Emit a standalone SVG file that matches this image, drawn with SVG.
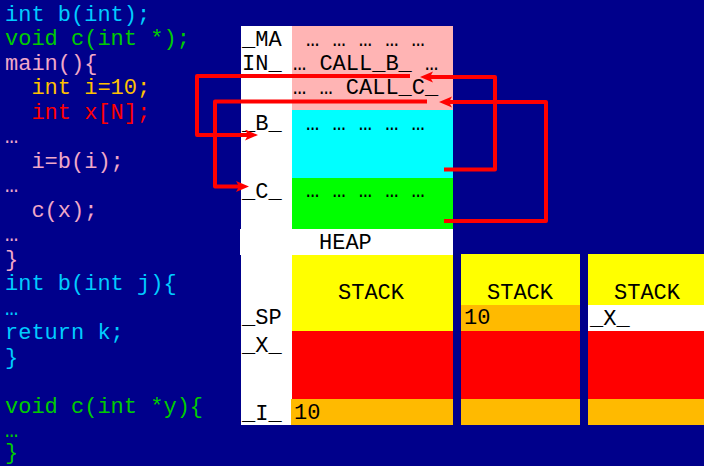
<svg xmlns="http://www.w3.org/2000/svg" width="704" height="466" viewBox="0 0 704 466">
<defs>
<style>
text{font-family:"Liberation Mono","Courier New",monospace;font-size:22px;}
.k{fill:#000000;}
.cy{fill:#00CCFF;}
.gr{fill:#00CC00;}
.pk{fill:#F0A8C8;}
.or{fill:#FFC000;}
.rd{fill:#FF0000;}
.conn{fill:none;stroke:#FF0000;stroke-width:4;stroke-linejoin:round;marker-end:url(#ah);}
</style>
<marker id="ah" markerUnits="userSpaceOnUse" markerWidth="14" markerHeight="12" refX="5" refY="5.5" orient="auto">
<path d="M0,0 L13,5.5 L0,11 L3,5.5 Z" fill="#FF0000"/>
</marker>
</defs>
<rect width="704" height="466" fill="#00008B"/>

<g id="code">
<text class="cy" x="5" y="20.5">int b(int);</text>
<text class="gr" x="5" y="45">void c(int *);</text>
<text class="pk" x="5" y="69.5">main(){</text>
<text class="or" x="31.4" y="94">int i=10;</text>
<text class="rd" x="31.4" y="118.5">int x[N];</text>
<text class="pk" x="5" y="143">…</text>
<text class="pk" x="31.4" y="167.5">i=b(i);</text>
<text class="pk" x="5" y="192">…</text>
<text class="pk" x="31.4" y="216.5">c(x);</text>
<text class="pk" x="5" y="241">…</text>
<text class="pk" x="5" y="265.5">}</text>
<text class="cy" x="5" y="290">int b(int j){</text>
<text class="cy" x="5" y="314.5">…</text>
<text class="cy" x="5" y="339">return k;</text>
<text class="cy" x="5" y="363.5">}</text>
<text class="gr" x="5" y="412.5">void c(int *y){</text>
<text class="gr" x="5" y="437">…</text>
<text class="gr" x="5" y="459">}</text>
</g>

<g id="labels">
<rect x="241" y="26" width="51" height="399" fill="#FFFFFF"/>
<text class="k" x="242" y="46">_MA</text>
<text class="k" x="242" y="70">IN_</text>
<text class="k" x="242" y="130">_B_</text>
<text class="k" x="242" y="198">_C_</text>
<text class="k" x="242" y="324">_SP</text>
<text class="k" x="242" y="352">_X_</text>
<text class="k" x="242" y="420">_I_</text>
</g>

<g id="main-code">
<rect x="292" y="26" width="161" height="84" fill="#FFB4B4"/>
<text class="k" x="306" y="46">… … … … …</text>
<text class="k" x="293" y="70">… CALL_B_ …</text>
<text class="k" x="293" y="94">… … CALL_C_</text>
</g>

<g id="b-code">
<rect x="292" y="110" width="161" height="68" fill="#00FFFF"/>
<text class="k" x="306" y="130">… … … … …</text>
</g>

<g id="c-code">
<rect x="292" y="178" width="161" height="51" fill="#00FF00"/>
<text class="k" x="306" y="197">… … … … …</text>
</g>

<g id="heap">
<rect x="240" y="229" width="213" height="26" fill="#FFFFFF"/>
<text class="k" x="319" y="249">HEAP</text>
</g>

<g id="stack1">
<rect x="292" y="255" width="161" height="76" fill="#FFFF00"/>
<text class="k" x="338" y="299">STACK</text>
<rect x="292" y="331" width="161" height="68" fill="#FF0000"/>
<rect x="291" y="399" width="162" height="26" fill="#FFBA00"/>
<text class="k" x="294" y="419">10</text>
</g>

<g id="stack2">
<rect x="461" y="254" width="119" height="51" fill="#FFFF00"/>
<text class="k" x="487" y="299">STACK</text>
<rect x="461" y="305" width="119" height="26" fill="#FFBA00"/>
<text class="k" x="464" y="324">10</text>
<rect x="461" y="331" width="119" height="68" fill="#FF0000"/>
<rect x="461" y="399" width="119" height="26" fill="#FFBA00"/>
</g>

<g id="stack3">
<rect x="588" y="254" width="116" height="51" fill="#FFFF00"/>
<text class="k" x="614" y="299">STACK</text>
<rect x="588" y="305" width="116" height="26" fill="#FFFFFF"/>
<text class="k" x="590" y="325">_X_</text>
<rect x="588" y="331" width="116" height="68" fill="#FF0000"/>
<rect x="588" y="399" width="116" height="26" fill="#FFBA00"/>
</g>

<g id="connectors">
<path class="conn" d="M410,76 H197 V135 H250"/>
<path class="conn" d="M427,101.5 H215 V186.5 H241"/>
<path class="conn" d="M444,169.5 H495 V77 H428"/>
<path class="conn" d="M444,221 H546 V102 H447"/>
</g>
</svg>
